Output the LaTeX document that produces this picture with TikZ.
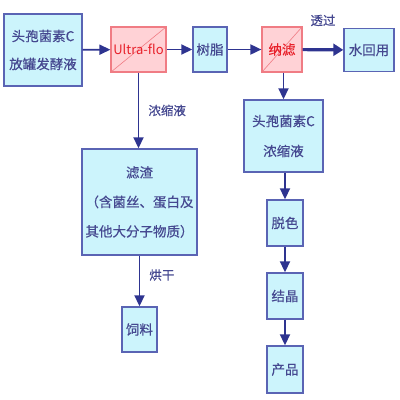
\documentclass[tikz,border=0pt]{standalone}
\usepackage{fontspec}
\setmainfont{Noto Sans CJK SC}[FakeBold=0.5]
\newfontfamily\plainfont{Noto Sans CJK SC}
\usetikzlibrary{arrows.meta}
\definecolor{boxfill}{HTML}{CCF4FC}
\definecolor{boxline}{HTML}{5A64B4}
\definecolor{txt}{HTML}{454890}
\definecolor{arr}{HTML}{2E3490}
\definecolor{pinkfill}{HTML}{FFD2D6}
\definecolor{pinkline}{HTML}{F07C84}
\definecolor{redtxt}{HTML}{E8202A}
\tikzset{
  box/.style={draw=boxline, line width=1.4pt, fill=boxfill, text=txt, inner sep=0pt, align=center, font=\fontsize{13.5}{28}\selectfont},
  pbox/.style={draw=pinkline, line width=1.2pt, fill=pinkfill, text=redtxt, inner sep=0pt, align=center, font=\fontsize{13.5}{28}\selectfont,
    path picture={\draw[pinkline, line width=0.6pt] (path picture bounding box.south west) -- (path picture bounding box.north east);}},
  flow/.style={draw=arr, line width=1.8pt, -{Triangle[length=11pt,width=10pt]}},
  lbl/.style={text=txt, font=\fontsize{12.5}{14}\selectfont, inner sep=0pt}
}
\begin{document}
\begin{tikzpicture}[x=1pt,y=-1pt]
\useasboundingbox (0,0) rectangle (400,400);
\node[box, minimum width=78pt, minimum height=72pt] (ferm) at (43,50) {头孢菌素C\\放罐发酵液};
\node[pbox, minimum width=55pt, minimum height=45pt, font=\plainfont\fontsize{13}{28}\selectfont] (ultra) at (138.5,49.5) {Ultra-flo};
\node[box, minimum width=34pt, minimum height=45pt] (resin) at (210,49.5) {树脂};
\node[pbox, minimum width=40pt, minimum height=45pt] (nano) at (282,49.5) {纳滤};
\node[box, minimum width=50pt, minimum height=43pt] (water) at (369,50) {水回用};
\node[box, minimum width=115pt, minimum height=106pt, font=\fontsize{13.5}{29.5}\selectfont] (resid) at (139.5,202) {滤渣\\（含菌丝、蛋白及\\其他大分子物质）};
\node[box, minimum width=35pt, minimum height=45pt] (feed) at (139.5,329.5) {饲料};
\node[box, minimum width=79pt, minimum height=72pt, font=\fontsize{13.5}{30}\selectfont] (conc) at (283.5,136) {头孢菌素C\\浓缩液};
\node[box, minimum width=36pt, minimum height=46pt] (decol) at (285,223) {脱色};
\node[box, minimum width=36pt, minimum height=46pt] (cryst) at (285,296) {结晶};
\node[box, minimum width=36pt, minimum height=47pt] (prod) at (285,369.5) {产品};

\draw[flow] (ferm) -- (ultra);
\draw[flow] (ultra) -- (resin);
\draw[flow] (resin) -- (nano);
\draw[flow, line width=3.2pt, -{Triangle[length=10pt,width=12pt]}] (nano) -- (water) node[lbl, midway, above=22pt] (t1) {透过};
\draw[flow] (ultra.south) -- (ultra.south |- resid.north) node[lbl, midway, right=9pt] (t2) {浓缩液};
\draw[flow] (resid.south -| feed.north) -- (feed.north) node[lbl, midway, right=9pt, yshift=6pt] (t3) {烘干};
\draw[flow] (nano.south -| conc.north) -- (conc.north);
\draw[flow] (conc.south -| decol.north) -- (decol.north);
\draw[flow] (decol) -- (cryst);
\draw[flow] (cryst) -- (prod);
\end{tikzpicture}
\end{document}
